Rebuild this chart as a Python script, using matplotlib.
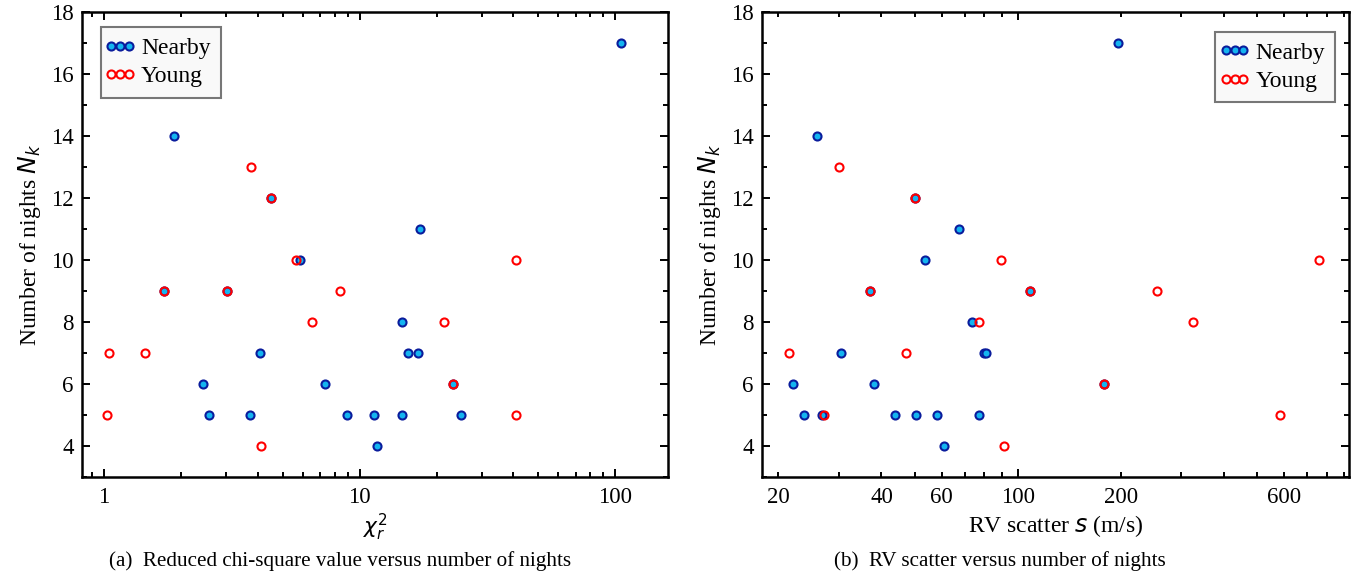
import numpy as np
import matplotlib
matplotlib.use("Agg")
import matplotlib.pyplot as plt
import matplotlib.ticker as ticker
from matplotlib.legend_handler import HandlerLine2D

# ── data ─────────────────────────────────────────────────────────────────────
nearby_nights = [17, 14, 12, 11, 10, 9, 9, 8, 7, 7, 7, 6, 6, 6, 5, 5, 5, 5, 5, 5, 4]
nearby_chi2 = [105.5, 1.87, 4.52, 17.2, 5.84, 1.71, 3.03, 14.6, 4.06, 15.5, 16.9,
               2.43, 7.34, 23.1, 2.58, 3.73, 8.95, 11.4, 14.6, 24.9, 11.7]
nearby_scatter = [197, 26.0, 50.0, 67.6, 53.7, 37.0, 108.4, 73.8, 30.4, 79.5, 81.0,
                  22.0, 38.1, 178.5, 23.8, 26.8, 43.8, 50.4, 58.0, 77.3, 61.1]

young_nights = [13, 12, 10, 10, 9, 9, 9, 8, 8, 7, 7, 6, 5, 5, 4]
young_chi2 = [3.75, 4.52, 5.65, 41.0, 1.71, 3.03, 8.37, 6.53, 21.4, 1.05, 1.45,
              23.1, 1.03, 40.8, 4.1]
young_scatter = [30.1, 50.0, 89.4, 761, 37.0, 108.4, 255, 77.1, 326, 21.4, 47.3,
                 178.5, 27.1, 585.6, 91.2]

scatter_labels = [20, 40, 60, 200, 600]

# ── style ────────────────────────────────────────────────────────────────────
plt.rcParams.update({
    "font.family": ["Liberation Serif", "DejaVu Serif"],
    "mathtext.fontset": "dejavusans",
    "axes.linewidth": 1.8,
    "xtick.direction": "in",
    "ytick.direction": "in",
    "xtick.top": True,
    "ytick.right": True,
    "xtick.major.size": 5.5,
    "ytick.major.size": 5.5,
    "xtick.minor.size": 3.6,
    "ytick.minor.size": 3.6,
    "xtick.major.width": 1.4,
    "ytick.major.width": 1.4,
    "xtick.minor.width": 1.4,
    "ytick.minor.width": 1.4,
    "xtick.major.pad": 7,
    "xtick.minor.pad": 7,
    "ytick.major.pad": 6,
})

NEARBY_FACE = "#14b4f0"
NEARBY_EDGE = "#0a1c9c"
YOUNG_EDGE = "#ff0000"
MS, MEW = 5.8, 1.5
TICK_FS = 16.5
LABEL_FS = 17
LEGEND_FS = 17

fig = plt.figure(figsize=(13.67, 5.79), dpi=100)
ax1 = fig.add_axes([0.0600, 0.1762, 0.4287, 0.8031])
ax2 = fig.add_axes([0.5574, 0.1762, 0.4294, 0.8031])


def draw(ax, x_near, x_young):
    ax.plot(x_near, nearby_nights, "o", ls="none", ms=MS, mew=MEW,
            mfc=NEARBY_FACE, mec=NEARBY_EDGE, label="Nearby", zorder=3)
    ax.plot(x_young, young_nights, "o", ls="none", ms=MS, mew=MEW,
            mfc="none", mec=YOUNG_EDGE, label="Young", zorder=4)
    ax.set_xscale("log")
    ax.set_ylim(3, 18)
    ax.yaxis.set_major_locator(ticker.MultipleLocator(2))
    ax.yaxis.set_minor_locator(ticker.MultipleLocator(1))
    ax.tick_params(which="both", labelsize=TICK_FS)
    ax.set_ylabel("Number of nights $N_k$", fontsize=LABEL_FS, labelpad=6)


def add_legend(ax, loc, anchor):
    handles, labels = ax.get_legend_handles_labels()
    hmap = {h: HandlerLine2D(marker_pad=0, numpoints=3) for h in handles}
    leg = ax.legend(handles, labels, loc=loc, bbox_to_anchor=anchor, borderaxespad=0,
                    handler_map=hmap, handlelength=0.75, handletextpad=0.5,
                    labelspacing=0.28, borderpad=0.45, fontsize=LEGEND_FS,
                    fancybox=False, framealpha=1, facecolor="#f9f9f9",
                    edgecolor="#777777")
    leg.get_frame().set_linewidth(1.5)
    return leg


# ── (a) reduced chi-square ───────────────────────────────────────────────────
draw(ax1, nearby_chi2, young_chi2)
ax1.set_xlim(0.82, 161)
ax1.xaxis.set_major_locator(ticker.FixedLocator([1, 10, 100]))
ax1.xaxis.set_major_formatter(ticker.FixedFormatter(["1", "10", "100"]))
ax1.xaxis.set_minor_locator(ticker.LogLocator(base=10, subs=np.arange(2, 10), numticks=20))
ax1.xaxis.set_minor_formatter(ticker.NullFormatter())
ax1.set_xlabel(r"$\chi_r^2$", fontsize=15.5, labelpad=3)
add_legend(ax1, "upper left", (0.032, 0.968))

# ── (b) RV scatter ───────────────────────────────────────────────────────────
draw(ax2, nearby_scatter, young_scatter)
ax2.set_xlim(17.9, 930)
ax2.xaxis.set_major_locator(ticker.FixedLocator([100]))
ax2.xaxis.set_major_formatter(ticker.FixedFormatter(["100"]))
ax2.xaxis.set_minor_locator(ticker.LogLocator(base=10, subs=np.arange(2, 10), numticks=20))
ax2.xaxis.set_minor_formatter(ticker.FuncFormatter(
    lambda v, pos: f"{v:.0f}" if round(v) in scatter_labels else ""))
ax2.set_xlabel("RV scatter $s$ (m/s)", fontsize=LABEL_FS, labelpad=4)
add_legend(ax2, "upper right", (0.977, 0.958))

# ── captions ─────────────────────────────────────────────────────────────────
fig.text(340 / 1367, 1 - 561 / 579, "(a)  Reduced chi-square value versus number of nights",
         ha="center", va="center", fontsize=15.2)
fig.text(1000 / 1367, 1 - 561 / 579, "(b)  RV scatter versus number of nights",
         ha="center", va="center", fontsize=15.2)

fig.savefig("out.png", dpi=100)
